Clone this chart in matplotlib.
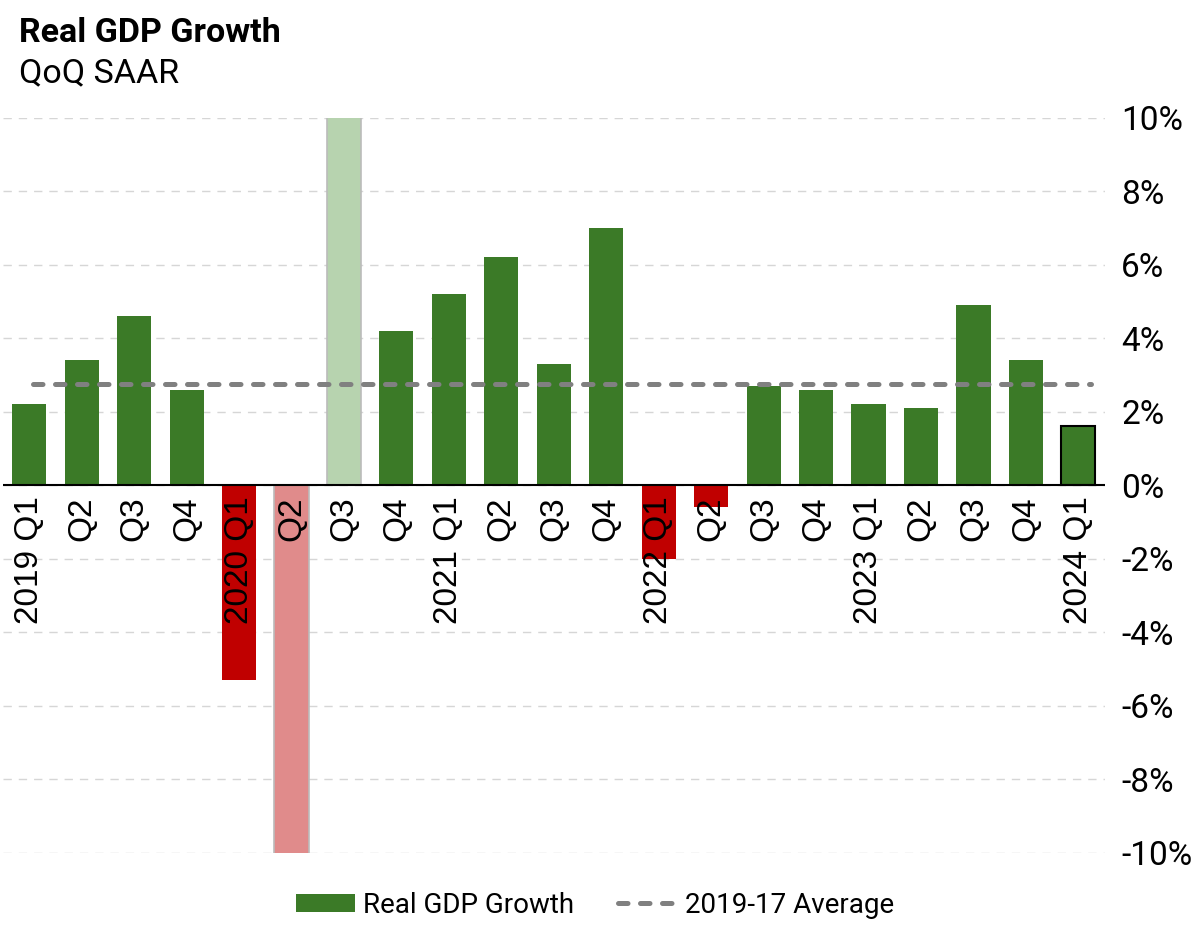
import matplotlib.pyplot as plt
import numpy as np
from matplotlib.patches import Patch
from matplotlib.lines import Line2D

plt.rcParams['font.family'] = ['Roboto', 'DejaVu Sans']

# data
quarters = ["2019 Q1", "Q2", "Q3", "Q4",
            "2020 Q1", "Q2", "Q3", "Q4",
            "2021 Q1", "Q2", "Q3", "Q4",
            "2022 Q1", "Q2", "Q3", "Q4",
            "2023 Q1", "Q2", "Q3", "Q4",
            "2024 Q1"]
gdp_growth = [2.2, 3.4, 4.6, 2.6,
              -5.3, -28.0, 34.8, 4.2,
              5.2, 6.2, 3.3, 7.0,
              -2.0, -0.6, 2.7, 2.6,
              2.2, 2.1, 4.9, 3.4,
              1.6]
avg_growth = 2.75
y_limit = 10

GREEN = "#3b7a27"
RED = "#c00000"
GREEN_LIGHT = "#b7d3af"
RED_LIGHT = "#e08b8b"
GRAY = "#808080"

fig = plt.figure(figsize=(12, 9.39), dpi=100)
ax = fig.add_axes([0.0025, 0.092, 0.918, 0.7826])

x = np.arange(len(quarters))
colors = []
edges = []
for v in gdp_growth:
    clipped = abs(v) > y_limit
    if v >= 0:
        colors.append(GREEN_LIGHT if clipped else GREEN)
    else:
        colors.append(RED_LIGHT if clipped else RED)
    edges.append("#bbbbbb" if clipped else "none")
edges[-1] = "black"

bars = ax.bar(x, gdp_growth, width=0.65, color=colors, edgecolor=edges,
              linewidth=1.2, zorder=3)
bars[-1].set_linewidth(1.5)

# average line (rounded dashes)
ax.plot([0.08, 20.25], [avg_growth, avg_growth], color=GRAY, lw=3.6,
        ls=(0, (1.9, 2.5)), dash_capstyle='round', zorder=4)
ax.axhline(0, color="black", lw=1.5, zorder=5)

ax.set_xlim(-0.5, len(quarters) - 0.5)
ax.set_ylim(-y_limit, y_limit)

ax.set_yticks(np.arange(-10, 11, 2))
ax.set_yticklabels([f"{t}%" for t in range(-10, 11, 2)], fontsize=24)
ax.yaxis.tick_right()
ax.tick_params(axis='y', length=0, pad=12)
ax.set_xticks([])
ax.grid(axis='y', color="#d6d6d6", ls=(0, (6, 5)), lw=1, zorder=0)
for s in ax.spines.values():
    s.set_visible(False)

for i, lab in enumerate(quarters):
    ax.text(i, -0.3, lab, rotation=90, ha='center', va='top', fontsize=24,
            family=['Liberation Sans', 'DejaVu Sans'], zorder=6)

fig.text(0.016, 0.965, "Real GDP Growth", fontsize=24.5, fontweight='bold',
         va='center', ha='left')
fig.text(0.016, 0.922, "QoQ SAAR", fontsize=24.5, va='center', ha='left')

handles = [Patch(facecolor=GREEN, edgecolor='none'),
           Line2D([0], [0], color=GRAY, lw=3.6, ls=(0, (1.9, 2.5)),
                  dash_capstyle='round')]
fig.legend(handles, ["Real GDP Growth", "2019-17 Average"], loc='center',
           bbox_to_anchor=(0.496, 0.036), ncol=2, frameon=False, fontsize=20,
           handlelength=2.1, handleheight=0.6, columnspacing=1.6,
           handletextpad=0.3)

fig.savefig("out.png", dpi=100)
